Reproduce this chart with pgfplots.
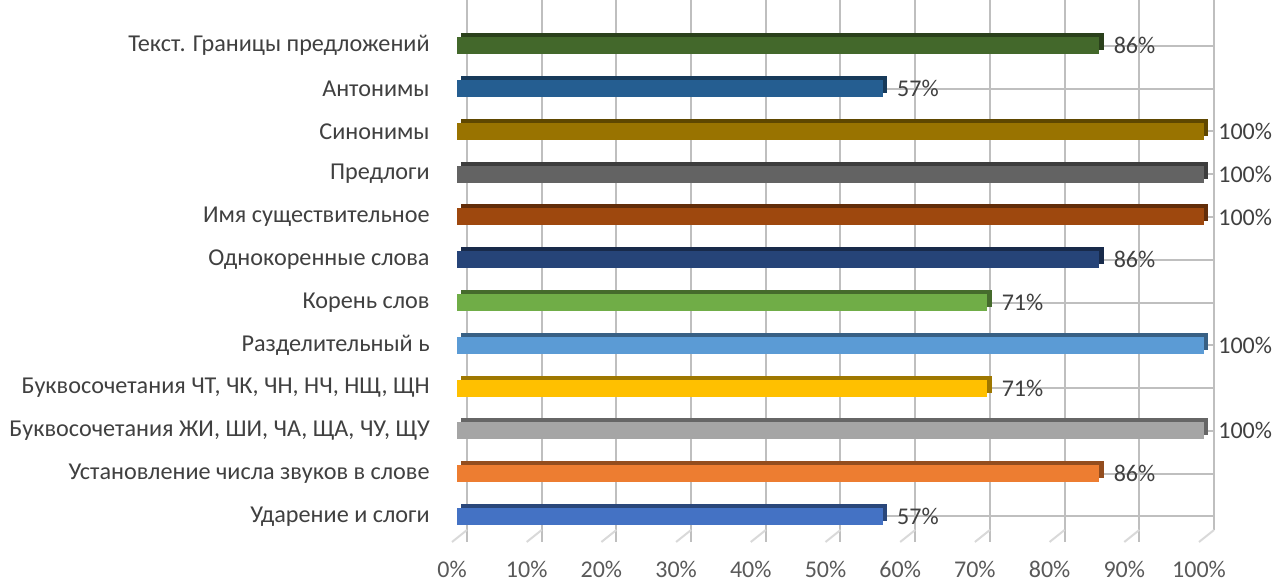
\documentclass[border=0pt]{standalone}
\usepackage{fontspec}
\setmainfont{Carlito}
\usepackage{pgfplots}
\pgfplotsset{compat=1.18}
\definecolor{ca}{HTML}{4472C4}
\definecolor{cb}{HTML}{ED7D31}
\definecolor{cc}{HTML}{A5A5A5}
\definecolor{cd}{HTML}{FFC000}
\definecolor{ce}{HTML}{5B9BD5}
\definecolor{cf}{HTML}{70AD47}
\definecolor{cg}{HTML}{264478}
\definecolor{ch}{HTML}{9E480E}
\definecolor{ci}{HTML}{636363}
\definecolor{cj}{HTML}{997300}
\definecolor{ck}{HTML}{255E91}
\definecolor{cl}{HTML}{43682B}
\definecolor{txt}{HTML}{404040}
\definecolor{tick}{HTML}{595959}
\definecolor{grid}{HTML}{D9D9D9}
\newcommand\tdbar[3]{%
  \addplot[xbar, bar width=8.5pt, bar shift=0pt, draw=none, fill=#2!62!black, xshift=2.2pt, yshift=2pt] coordinates {(#1,#3)};
  \addplot[xbar, bar width=8.5pt, bar shift=0pt, draw=none, fill=#2, point meta=x,
    nodes near coords={\pgfmathprintnumber[assume math mode=true]{\pgfplotspointmeta}\%},
    every node near coord/.append style={anchor=west, inner sep=0pt, xshift=7pt, text=txt, font=\fontsize{12}{14}\selectfont}] coordinates {(#1,#3)};
}
\begin{document}
\fontsize{12}{14}\selectfont
\begin{tikzpicture}
\begin{axis}[at={(0,0)}, anchor=south west, scale only axis,
  width=373.5pt, height=271pt,
  xmin=0, xmax=100, ymin=-0.596, ymax=12.07,
  clip=false,
  axis line style={draw=none}, major tick length=0pt,
  xmajorgrids, major grid style={grid, line width=1pt, xshift=5pt, shorten <=6pt},
  ytick={0,...,11},
  yticklabels={Ударение и слоги, Установление числа звуков в слове, {Буквосочетания ЖИ, ШИ, ЧА, ЩА, ЧУ, ЩУ}, {Буквосочетания ЧТ, ЧК, ЧН, НЧ, НЩ, ЩН}, Разделительный ь, Корень слов, Однокоренные слова, Имя существительное, Предлоги, Синонимы, Антонимы, Текст. Границы предложений},
  yticklabel style={anchor=east, inner sep=0pt, xshift=-13.5pt, text=txt, font=\fontsize{12.1}{14}\selectfont},
  xtick={0,10,...,100},
  xticklabels={0\%,10\%,20\%,30\%,40\%,50\%,60\%,70\%,80\%,90\%,100\%},
  xticklabel style={anchor=north, inner sep=0pt, xshift=-2.5pt, yshift=-9.5pt, text=tick, font=\fontsize{12}{14}\selectfont},
]
\pgfplotsinvokeforeach{0,10,20,30,40,50,60,70,80,90,100}{
  \draw[grid, line width=1pt] ([xshift=-2.5pt]axis cs:#1,-0.596) -- ++(7.5pt,6pt);
}
\tdbar{57}{ca}{0}
\tdbar{86}{cb}{1}
\tdbar{100}{cc}{2}
\tdbar{71}{cd}{3}
\tdbar{100}{ce}{4}
\tdbar{71}{cf}{5}
\tdbar{86}{cg}{6}
\tdbar{100}{ch}{7}
\tdbar{100}{ci}{8}
\tdbar{100}{cj}{9}
\tdbar{57}{ck}{10}
\tdbar{86}{cl}{11}
\end{axis}
\pgfresetboundingbox
\path (-228.5pt,-19.5pt) rectangle (409.5pt,271pt);
\end{tikzpicture}
\end{document}
